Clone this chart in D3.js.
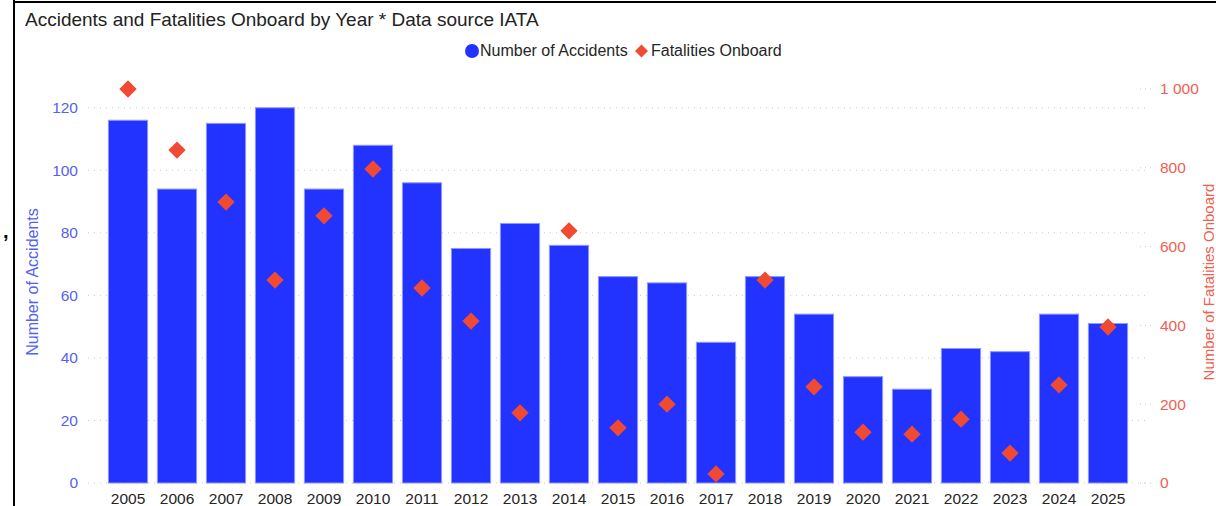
<!DOCTYPE html>
<html><head><meta charset="utf-8">
<script src="https://cdn.jsdelivr.net/npm/d3@7"></script>
<style>body{margin:0;background:#fff;} text{font-family:"Liberation Sans",Arial,sans-serif;}</style>
</head><body>
<svg id="c" width="1216" height="506"></svg>
<script>
const years = ["2005","2006","2007","2008","2009","2010","2011","2012","2013","2014","2015","2016","2017","2018","2019","2020","2021","2022","2023","2024","2025"];
const accidents = [116,94,115,120,94,108,96,75,83,76,66,64,45,66,54,34,30,43,42,54,51];
const fatalities = [1000,845,713,515,678,797,495,411,178,640,140,200,23,515,244,129,124,162,76,249,396];
const leftTicks = [0,20,40,60,80,100,120];
const rightTicks = [0,200,400,600,800,1000];

const svg = d3.select("#c");
const barColor = "#2233ff", dotColor = "#f04a33";
const leftColor = "#5561f0", rightColor = "#f0604f";
const ff = "Liberation Sans, Arial, sans-serif";

// frame
svg.append("line").attr("x1",14).attr("x2",14).attr("y1",0).attr("y2",506).attr("stroke","#000").attr("stroke-width",2);
svg.append("line").attr("x1",14).attr("x2",1216).attr("y1",2).attr("y2",2).attr("stroke","#000").attr("stroke-width",2);
svg.append("text").attr("x",3).attr("y",238).attr("font-size",20).attr("font-weight","bold").attr("fill","#000").text(",");

svg.append("text").attr("x",25).attr("y",26).attr("font-size",19).attr("fill","#222").text("Accidents and Fatalities Onboard by Year * Data source IATA");

const x = d3.scaleBand().domain(years).range([103.5,1132.5]).paddingInner(0.2).paddingOuter(0.1);
const yL = d3.scaleLinear().domain([0,126]).range([483,89]);
const yR = d3.scaleLinear().domain([0,1000]).range([483,89]);

// left gridlines
svg.append("g").selectAll("line").data(leftTicks).join("line")
  .attr("x1",88).attr("x2",1146).attr("y1",d=>yL(d)).attr("y2",d=>yL(d))
  .attr("stroke","#c8c8c8").attr("stroke-dasharray","1,5");
// right short dots
svg.append("g").selectAll("line").data(rightTicks).join("line")
  .attr("x1",1140).attr("x2",1152).attr("y1",d=>yR(d)).attr("y2",d=>yR(d))
  .attr("stroke","#c8c8c8").attr("stroke-dasharray","1,4");

// left axis
const gL = svg.append("g").attr("transform","translate(78,0)")
  .call(d3.axisLeft(yL).tickValues(leftTicks).tickSize(0).tickPadding(0));
gL.select(".domain").remove();
gL.selectAll("text").attr("font-size",15.5).attr("fill",leftColor).attr("font-family",ff);

// right axis
const gR = svg.append("g").attr("transform","translate(1160,0)")
  .call(d3.axisRight(yR).tickValues(rightTicks).tickSize(0).tickPadding(0)
    .tickFormat(d=>d3.format(",")(d).replace(/,/g," ")));
gR.select(".domain").remove();
gR.selectAll("text").attr("font-size",15.5).attr("fill",rightColor).attr("font-family",ff);

// bars
svg.append("g").selectAll("rect").data(years).join("rect")
  .attr("x",d=>x(d)).attr("width",x.bandwidth())
  .attr("y",(d,i)=>yL(accidents[i])).attr("height",(d,i)=>yL(0)-yL(accidents[i]))
  .attr("fill",barColor).attr("stroke","#8f97ff").attr("stroke-width",1);

// x axis
const gX = svg.append("g").attr("transform","translate(0,504)")
  .call(d3.axisBottom(x).tickSize(0).tickPadding(0));
gX.select(".domain").remove();
gX.selectAll("text").attr("font-size",15.5).attr("fill","#252525").attr("y",0).attr("dy",0).attr("font-family",ff);

// diamonds
const sym = d3.symbol().type(d3.symbolSquare).size(150);
svg.append("g").selectAll("path").data(years).join("path")
  .attr("d",sym)
  .attr("transform",(d,i)=>`translate(${x(d)+x.bandwidth()/2},${yR(fatalities[i])}) rotate(45)`)
  .attr("fill",dotColor);

// axis titles
svg.append("text").attr("transform","translate(38,282) rotate(-90)").attr("text-anchor","middle")
  .attr("font-size",16).attr("fill",leftColor).text("Number of Accidents");
svg.append("text").attr("transform","translate(1214,282) rotate(-90)").attr("text-anchor","middle")
  .attr("font-size",15).attr("fill",rightColor).text("Number of Fatalities Onboard");

// legend
const lg = svg.append("g");
lg.append("circle").attr("cx",472).attr("cy",51).attr("r",7).attr("fill",barColor);
lg.append("text").attr("x",480).attr("y",56).attr("font-size",16).attr("fill","#252525").text("Number of Accidents");
lg.append("path").attr("d",d3.symbol().type(d3.symbolSquare).size(85)).attr("transform","translate(641.5,51) rotate(45)").attr("fill",dotColor);
lg.append("text").attr("x",651).attr("y",56).attr("font-size",16).attr("fill","#252525").text("Fatalities Onboard");
</script>
</body></html>
